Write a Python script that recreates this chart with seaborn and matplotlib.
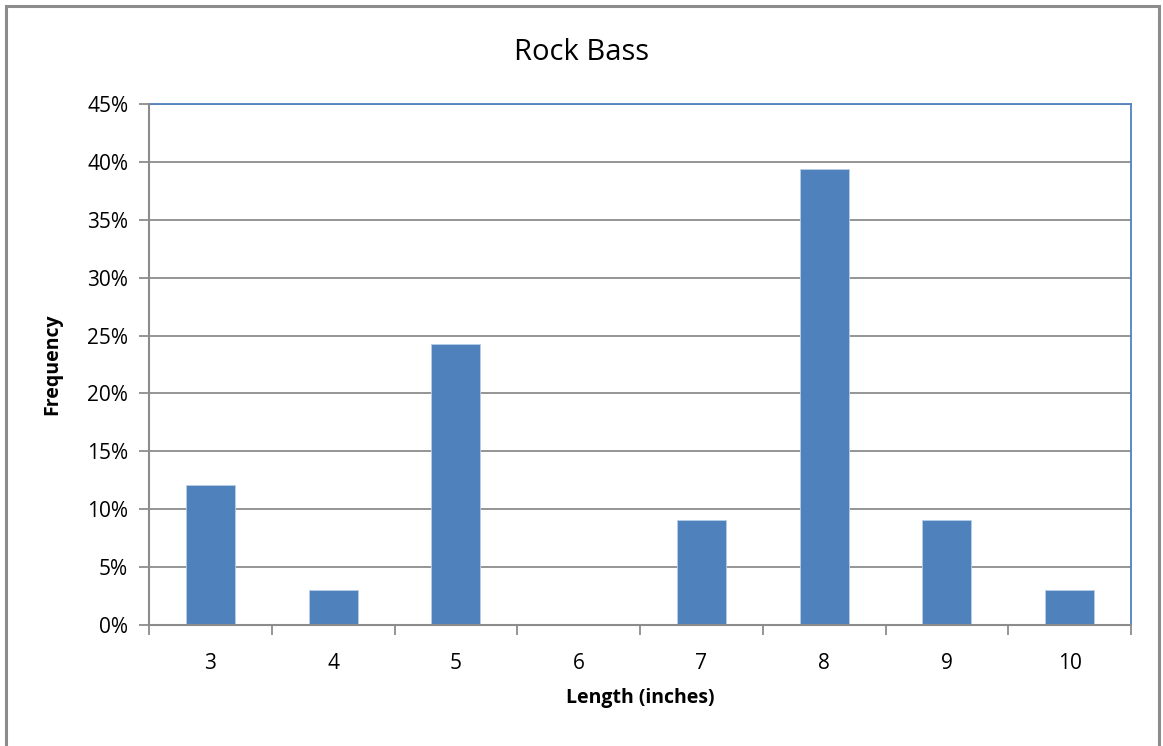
import matplotlib
matplotlib.use("Agg")
import matplotlib.pyplot as plt
from matplotlib.patches import Rectangle
from matplotlib.ticker import FuncFormatter, FixedLocator
import seaborn as sns
import pandas as pd

# Rock bass length distribution (share of fish in each 1-inch class)
lengths = ["3", "4", "5", "6", "7", "8", "9", "10"]
frequency = [0.1212, 0.0303, 0.2424, 0.0, 0.0909, 0.3939, 0.0909, 0.0303]
y_ticks = [0.0, 0.05, 0.10, 0.15, 0.20, 0.25, 0.30, 0.35, 0.40, 0.45]

sns.set_theme(style="white")
plt.rcParams["font.family"] = ["Open Sans", "DejaVu Sans"]
plt.rcParams["text.color"] = "black"
plt.rcParams["axes.labelcolor"] = "black"

bar_blue = "#4F81BD"
grid_grey = "#8C8C8C"

df = pd.DataFrame({"Length": lengths, "Frequency": frequency})

fig = plt.figure(figsize=(11.63, 7.46), dpi=100)
ax = fig.add_axes([149 / 1163, 1 - 625 / 746, (1131 - 149) / 1163, (625 - 104) / 746])

sns.barplot(data=df, x="Length", y="Frequency", order=lengths, color=bar_blue,
            saturation=1, width=0.4, edgecolor="#B9CDE5", linewidth=0.6, ax=ax, zorder=3)

ax.set_xlim(-0.5, len(lengths) - 0.5)
ax.set_ylim(0, 0.45)
ax.set_yticks(y_ticks)
ax.yaxis.set_major_formatter(FuncFormatter(lambda v, _: f"{v * 100:.0f}%"))
ax.yaxis.grid(True, color=grid_grey, linewidth=1.3, zorder=0)
ax.set_axisbelow(True)

# category boundaries carry the tick marks, labels sit at bar centres
ax.xaxis.set_minor_locator(FixedLocator([i - 0.5 for i in range(len(lengths) + 1)]))
ax.tick_params(axis="x", which="major", length=0, pad=20, labelsize=15, colors="black")
ax.tick_params(axis="x", which="minor", bottom=True, length=7, width=1.3, color=grid_grey,
               direction="out")
ax.tick_params(axis="y", which="major", length=7, width=1.3, color=grid_grey, direction="out",
               left=True, pad=8, labelsize=15, colors="black")

for side in ["top", "right"]:
    ax.spines[side].set_color(bar_blue)
    ax.spines[side].set_linewidth(1.3)
for side in ["left", "bottom"]:
    ax.spines[side].set_color(grid_grey)
    ax.spines[side].set_linewidth(1.5)
    ax.spines[side].set_zorder(4)

ax.set_xlabel("Length (inches)", fontsize=14, fontweight="bold", labelpad=10)
ax.set_ylabel("Frequency", fontsize=14, fontweight="bold", labelpad=18)
fig.text(582 / 1163, 1 - 52 / 746, "Rock Bass", ha="center", va="center", fontsize=21)

# chart area frame
fig.patches.append(Rectangle((6 / 1163, -0.02), (1159 - 6) / 1163, 1.02 - 6 / 746,
                             transform=fig.transFigure, fill=False,
                             edgecolor="#8C8C8C", linewidth=2.2))

fig.savefig("out.png", dpi=100)
